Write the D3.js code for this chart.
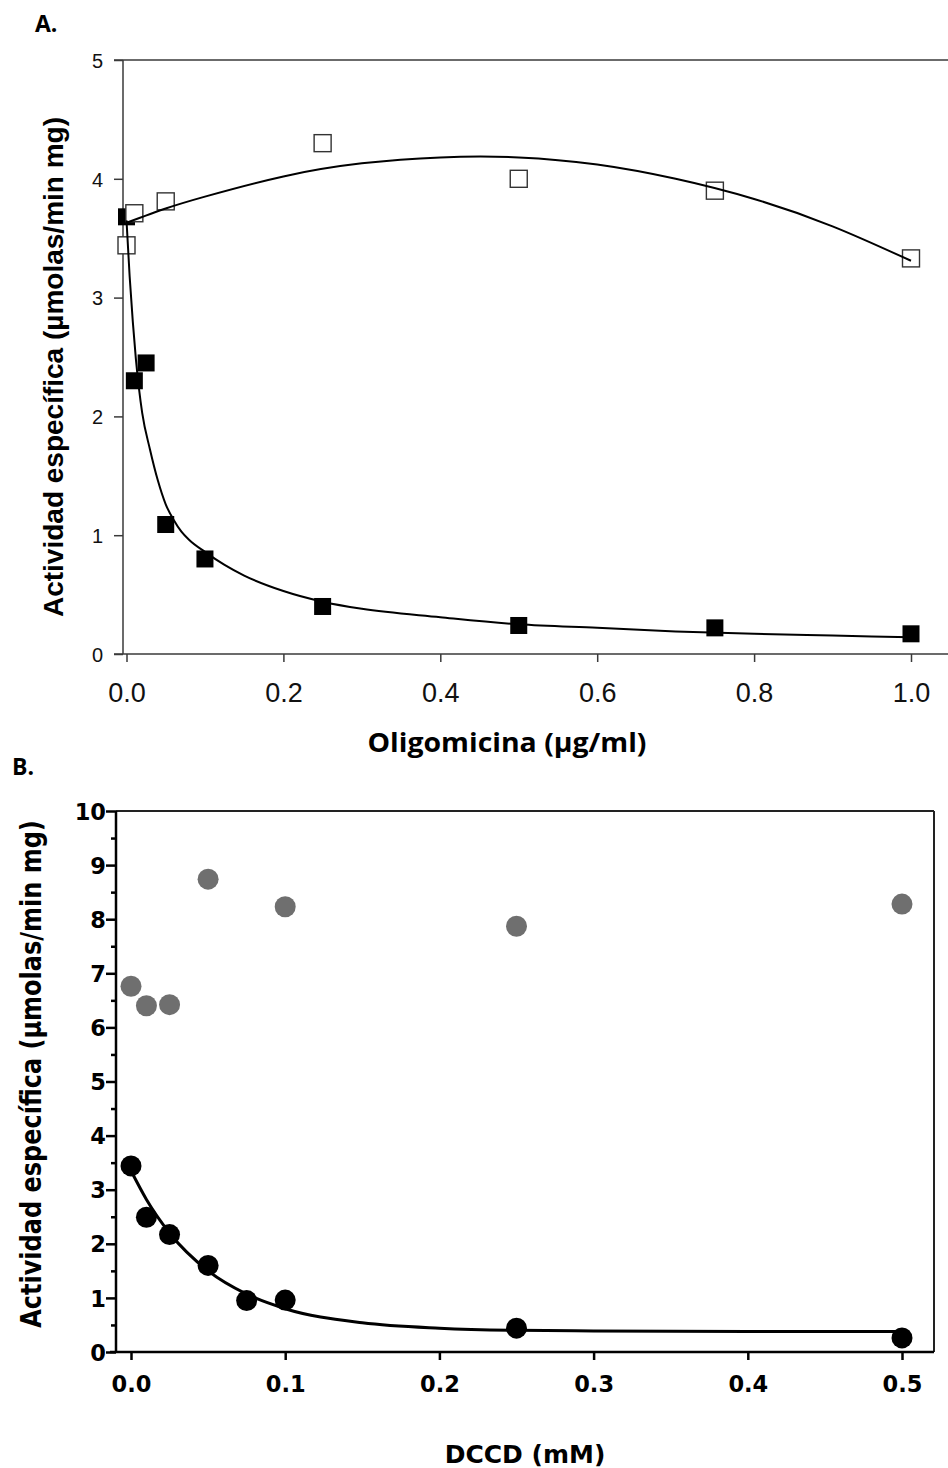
<!DOCTYPE html>
<html>
<head>
<meta charset="utf-8">
<script src="https://cdn.jsdelivr.net/npm/d3@7"></script>
<style>
	body{margin:0; background:#fff;}
	svg{display:block;}
</style>
</head>
<body>
<div id="chart"></div>
<script>
// ---- panel A : oligomicina ----
let oligoX = [0, 0.01, 0.025, 0.05, 0.1, 0.25, 0.5, 0.75, 1.0];
let oligoFilled = [3.68, 2.30, 2.45, 1.09, 0.80, 0.40, 0.24, 0.22, 0.17];
let oligoOpenX = [0, 0.01, 0.05, 0.25, 0.5, 0.75, 1.0];
let oligoOpen = [3.44, 3.71, 3.81, 4.30, 4.00, 3.90, 3.33];
// fitted curves
let fitOpenX = [0, 0.05, 0.1, 0.2, 0.3, 0.4, 0.5, 0.6, 0.7, 0.8, 0.9, 1.0];
let fitOpenY = [3.63, 3.75, 3.85, 4.02, 4.13, 4.18, 4.18, 4.12, 4.00, 3.83, 3.60, 3.31];
let fitFilledX = [0, 0.004, 0.008, 0.012, 0.016, 0.02, 0.03, 0.04, 0.05, 0.06, 0.07, 0.08, 0.1, 0.125, 0.15, 0.2, 0.25, 0.3, 0.4, 0.5, 0.6, 0.7, 0.8, 0.9, 1.0];
let fitFilledY = [3.65, 3.18, 2.8, 2.48, 2.23, 2.03, 1.72, 1.46, 1.26, 1.13, 1.03, 0.96, 0.86, 0.75, 0.66, 0.53, 0.44, 0.38, 0.31, 0.25, 0.22, 0.19, 0.17, 0.155, 0.14];
let ticksAX = [0, 0.2, 0.4, 0.6, 0.8, 1.0];
let ticksAY = [0, 1, 2, 3, 4, 5];

// ---- panel B : DCCD ----
let dccdX = [0, 0.01, 0.025, 0.05, 0.1, 0.25, 0.5];
let dccdGray = [6.76, 6.40, 6.42, 8.74, 8.23, 7.87, 8.28];
let dccdBlackX = [0, 0.01, 0.025, 0.05, 0.075, 0.1, 0.25, 0.5];
let dccdBlack = [3.44, 2.49, 2.17, 1.60, 0.95, 0.96, 0.44, 0.26];
let fitBX = [0, 0.01, 0.025, 0.05, 0.075, 0.1, 0.15, 0.2, 0.25, 0.3, 0.4, 0.5];
let fitBY = [3.35, 2.82, 2.20, 1.50, 1.07, 0.80, 0.54, 0.44, 0.40, 0.39, 0.38, 0.38];
let ticksBX = [0, 0.1, 0.2, 0.3, 0.4, 0.5];
let ticksBY = [0, 1, 2, 3, 4, 5, 6, 7, 8, 9, 10];
let minorBY = [0.5, 1.5, 2.5, 3.5, 4.5, 5.5, 6.5, 7.5, 8.5, 9.5];

let svg = d3.select("#chart").append("svg").attr("width", 948).attr("height", 1468);
svg.append("rect").attr("width", 948).attr("height", 1468).attr("fill", "#fff");

function zip(xs, ys){
	return xs.map(function(x, i){ return [x, ys[i]]; });
}

function panelA(){
	let x = d3.scaleLinear().domain([0, 1]).range([126.5, 911]),
		y = d3.scaleLinear().domain([0, 5]).range([654, 60]),
		axisColor = "#3a3a3a",
		g = svg.append("g");

	// frame: left, top, bottom (no right side)
	g.append("line").attr("x1", 123).attr("x2", 123).attr("y1", y(5)).attr("y2", y(0))
		.attr("stroke", axisColor).attr("stroke-width", 1.5);
	g.append("line").attr("x1", 114).attr("x2", 948).attr("y1", y(5)).attr("y2", y(5))
		.attr("stroke", axisColor).attr("stroke-width", 1.5);
	g.append("line").attr("x1", 114).attr("x2", 948).attr("y1", y(0)).attr("y2", y(0))
		.attr("stroke", axisColor).attr("stroke-width", 1.5);

	let xAxis = d3.axisBottom(x).tickValues(ticksAX).tickSize(8).tickSizeOuter(0).tickFormat(d3.format(".1f"));
	let xg = g.append("g").attr("transform", "translate(0," + y(0) + ")").call(xAxis);
	xg.select(".domain").remove();
	xg.selectAll(".tick line").attr("stroke", axisColor).attr("stroke-width", 1.5);
	xg.selectAll(".tick text").attr("dy", null).attr("y", 48)
		.style("font-family", "'Liberation Sans', Arial, sans-serif").style("font-size", "27px").attr("fill", "#111");

	let yAxis = d3.axisLeft(y).tickValues(ticksAY).tickSize(9).tickSizeOuter(0).tickFormat(d3.format("d"));
	let yg = g.append("g").attr("transform", "translate(123,0)").call(yAxis);
	yg.select(".domain").remove();
	yg.selectAll(".tick line").attr("stroke", axisColor).attr("stroke-width", 1.5);
	yg.selectAll(".tick text").attr("x", -20).attr("dy", "0.36em")
		.style("font-family", "'Liberation Sans', Arial, sans-serif").style("font-size", "20px").attr("fill", "#111");

	let sq = 17;
	g.selectAll("rect.filled").data(zip(oligoX, oligoFilled)).enter().append("rect")
		.attr("class", "filled")
		.attr("x", function(d){ return x(d[0]) - sq/2; })
		.attr("y", function(d){ return y(d[1]) - sq/2; })
		.attr("width", sq).attr("height", sq).attr("fill", "#000");

	g.selectAll("rect.open").data(zip(oligoOpenX, oligoOpen)).enter().append("rect")
		.attr("class", "open")
		.attr("x", function(d){ return x(d[0]) - sq/2; })
		.attr("y", function(d){ return y(d[1]) - sq/2; })
		.attr("width", sq).attr("height", sq)
		.attr("fill", "#fff").attr("stroke", "#333").attr("stroke-width", 1.4);

	let lineOpen = d3.line().x(function(d){ return x(d[0]); }).y(function(d){ return y(d[1]); }).curve(d3.curveNatural);
	let lineFilled = d3.line().x(function(d){ return x(d[0]); }).y(function(d){ return y(d[1]); }).curve(d3.curveMonotoneX);
	g.append("path").datum(zip(fitOpenX, fitOpenY)).attr("d", lineOpen)
		.attr("fill", "none").attr("stroke", "#000").attr("stroke-width", 2);
	g.append("path").datum(zip(fitFilledX, fitFilledY)).attr("d", lineFilled)
		.attr("fill", "none").attr("stroke", "#000").attr("stroke-width", 2);

	// labels
	svg.append("text").attr("x", 35).attr("y", 32).text("A.")
		.style("font-family", "'Open Sans', sans-serif").style("font-weight", "bold").style("font-size", "23px");
	svg.append("text").attr("x", 507).attr("y", 752).attr("text-anchor", "middle")
		.attr("textLength", 279).attr("lengthAdjust", "spacingAndGlyphs")
		.text("Oligomicina (µg/ml)")
		.style("font-family", "'Open Sans', sans-serif").style("font-weight", "bold").style("font-size", "27px");
	svg.append("text").attr("transform", "translate(63,367) rotate(-90)").attr("text-anchor", "middle")
		.text("Actividad específica (µmolas/min mg)")
		.style("font-family", "'Liberation Sans', Arial, sans-serif").style("font-weight", "bold").style("font-size", "28px");
}

function panelB(){
	let x = d3.scaleLinear().domain([0, 0.5]).range([131, 902]),
		y = d3.scaleLinear().domain([0, 10]).range([1352, 811]),
		left = 116, right = 934,
		font = "'DejaVu Sans', sans-serif",
		g = svg.append("g");

	// top and right of frame
	g.append("line").attr("x1", left).attr("x2", right).attr("y1", y(10)).attr("y2", y(10))
		.attr("stroke", "#222").attr("stroke-width", 2);
	g.append("line").attr("x1", right).attr("x2", right).attr("y1", y(10)).attr("y2", y(0))
		.attr("stroke", "#222").attr("stroke-width", 2);
	// axes
	g.append("line").attr("x1", 110).attr("x2", right).attr("y1", y(0)).attr("y2", y(0))
		.attr("stroke", "#000").attr("stroke-width", 2.5);
	g.append("line").attr("x1", left).attr("x2", left).attr("y1", y(10)).attr("y2", y(0) + 1)
		.attr("stroke", "#000").attr("stroke-width", 2.5);

	let xAxis = d3.axisBottom(x).tickValues(ticksBX).tickSize(8).tickSizeOuter(0).tickFormat(d3.format(".1f"));
	let xg = g.append("g").attr("transform", "translate(0," + y(0) + ")").call(xAxis);
	xg.select(".domain").remove();
	xg.selectAll(".tick line").attr("stroke", "#000").attr("stroke-width", 2.5);
	xg.selectAll(".tick text").attr("dy", null).attr("y", 40)
		.style("font-family", font).style("font-weight", "bold").style("font-size", "22.5px").attr("fill", "#000");

	let yAxis = d3.axisLeft(y).tickValues(ticksBY).tickSize(10).tickSizeOuter(0).tickFormat(d3.format("d"));
	let yg = g.append("g").attr("transform", "translate(" + left + ",0)").call(yAxis);
	yg.select(".domain").remove();
	yg.selectAll(".tick line").attr("stroke", "#000").attr("stroke-width", 2.5);
	yg.selectAll(".tick text").attr("x", -10).attr("dy", "0.36em")
		.style("font-family", font).style("font-weight", "bold").style("font-size", "22.5px").attr("fill", "#000");

	let minorAxis = d3.axisLeft(y).tickValues(minorBY).tickSize(5).tickFormat("");
	let mg = g.append("g").attr("transform", "translate(" + left + ",0)").call(minorAxis);
	mg.select(".domain").remove();
	mg.selectAll(".tick line").attr("stroke", "#000").attr("stroke-width", 2.5);

	g.selectAll("circle.gray").data(zip(dccdX, dccdGray)).enter().append("circle")
		.attr("class", "gray")
		.attr("cx", function(d){ return x(d[0]); })
		.attr("cy", function(d){ return y(d[1]); })
		.attr("r", 10.5).attr("fill", "#6f6f6f");

	let line = d3.line().x(function(d){ return x(d[0]); }).y(function(d){ return y(d[1]); }).curve(d3.curveMonotoneX);
	g.append("path").datum(zip(fitBX, fitBY)).attr("d", line)
		.attr("fill", "none").attr("stroke", "#000").attr("stroke-width", 3);

	g.selectAll("circle.black").data(zip(dccdBlackX, dccdBlack)).enter().append("circle")
		.attr("class", "black")
		.attr("cx", function(d){ return x(d[0]); })
		.attr("cy", function(d){ return y(d[1]); })
		.attr("r", 10.5).attr("fill", "#000");

	svg.append("text").attr("x", 12).attr("y", 775).text("B.")
		.style("font-family", "'Open Sans', sans-serif").style("font-weight", "bold").style("font-size", "23px");
	svg.append("text").attr("x", 525).attr("y", 1463).attr("text-anchor", "middle")
		.text("DCCD (mM)")
		.style("font-family", font).style("font-weight", "bold").style("font-size", "25px");
	svg.append("text").attr("transform", "translate(41,1074) rotate(-90) scale(1,1.15)").attr("text-anchor", "middle")
		.text("Actividad específica (µmolas/min mg)")
		.style("font-family", font).style("font-weight", "bold").style("font-size", "24px");
}

panelA();
panelB();
</script>
</body>
</html>
